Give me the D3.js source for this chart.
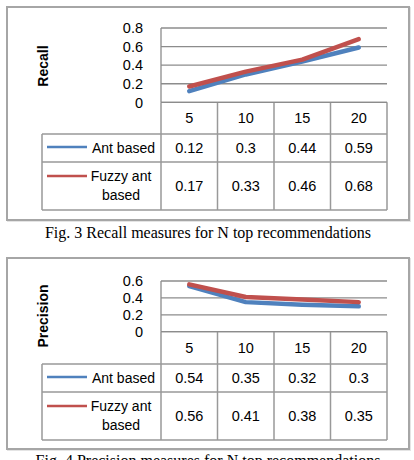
<!DOCTYPE html>
<html>
<head>
<meta charset="utf-8">
<script src="https://cdn.jsdelivr.net/npm/d3@7"></script>
<style>
html,body{margin:0;padding:0;background:#fff;}
svg{display:block;}
</style>
</head>
<body>
<script>
const categories = ["5", "10", "15", "20"];
const seriesNames = ["Ant based", "Fuzzy ant based"];
const recallAnt = [0.12, 0.3, 0.44, 0.59];
const recallFuzzy = [0.17, 0.33, 0.46, 0.68];
const precisionAnt = [0.54, 0.35, 0.32, 0.3];
const precisionFuzzy = [0.56, 0.41, 0.38, 0.35];
const recallTicks = [0, 0.2, 0.4, 0.6, 0.8];
const precisionTicks = [0, 0.2, 0.4, 0.6];
const recallTickLabels = ["0", "0.2", "0.4", "0.6", "0.8"];
const precisionTickLabels = ["0", "0.2", "0.4", "0.6"];
const captions = ["Fig. 3 Recall measures for N top recommendations", "Fig. 4 Precision measures for N top recommendations"];
const yTitles = ["Recall", "Precision"];
const colors = ["#4F81BD", "#C0504D"];

const W = 414, H = 460;
const svg = d3.select("body").append("svg").attr("width", W).attr("height", H);
const font = "'Liberation Sans', Arial, sans-serif";
const gridColor = "#8c8c8c";

function drawChart(cfg) {
  const g = svg.append("g");
  // outer frame with faint shadow
  g.append("rect").attr("x", 8).attr("y", cfg.boxTop + 1).attr("width", 402).attr("height", cfg.boxBottom - cfg.boxTop)
    .attr("fill", "none").attr("stroke", "#e4e4e4").attr("stroke-width", 2);
  g.append("rect").attr("x", 7).attr("y", cfg.boxTop).attr("width", 402).attr("height", cfg.boxBottom - cfg.boxTop)
    .attr("fill", "#fff").attr("stroke", "#a6a6a6").attr("stroke-width", 2);

  const x = d3.scaleBand().domain(categories).range([161, 387]).padding(0);
  const y = d3.scaleLinear().domain([0, cfg.max]).range([cfg.y0, cfg.yTop]);
  const cx = c => x(c) + x.bandwidth() / 2;

  // gridlines
  g.selectAll(".grid").data(cfg.ticks).enter().append("line")
    .attr("x1", 161).attr("x2", 387)
    .attr("y1", d => y(d)).attr("y2", d => y(d))
    .attr("stroke", gridColor).attr("stroke-width", 1.3);
  // left axis line
  g.append("line").attr("x1", 161).attr("x2", 161).attr("y1", y(cfg.max)).attr("y2", cfg.y0)
    .attr("stroke", gridColor).attr("stroke-width", 1.3);

  // tick labels
  g.selectAll(".tl").data(cfg.ticks).enter().append("text")
    .attr("x", 143).attr("y", d => y(d)).attr("dy", "0.36em")
    .attr("text-anchor", "end").attr("font-family", font).attr("font-size", 14.5).attr("fill", "#000")
    .text((d, i) => cfg.tickLabels[i]);

  // y title
  g.append("text").attr("transform", `translate(48,${cfg.titleY}) rotate(-90)`)
    .attr("text-anchor", "middle").attr("font-family", font).attr("font-size", 14).attr("font-weight", "bold")
    .text(cfg.title);

  // lines
  const line = d3.line().x((d, i) => cx(categories[i])).y(d => y(d));
  cfg.series.forEach((s, k) => {
    g.append("path").attr("d", line(s)).attr("fill", "none")
      .attr("stroke", colors[k]).attr("stroke-width", 4.5).attr("stroke-linejoin", "round").attr("stroke-linecap", "round");
  });

  // table
  const r0 = cfg.y0, r1 = cfg.rows[0], r2 = cfg.rows[1], r3 = cfg.rows[2];
  const tc = "#999";
  const tw = 1.5;
  const colEdges = x.domain().map(c => x(c)).concat([387]);
  colEdges.forEach(e => {
    g.append("line").attr("x1", e).attr("x2", e).attr("y1", r0).attr("y2", r3).attr("stroke", tc).attr("stroke-width", tw);
  });
  g.append("line").attr("x1", 161).attr("x2", 387).attr("y1", r0).attr("y2", r0).attr("stroke", gridColor).attr("stroke-width", 1.3);
  [r1, r2, r3].forEach(r => {
    g.append("line").attr("x1", 42).attr("x2", 387).attr("y1", r).attr("y2", r).attr("stroke", tc).attr("stroke-width", tw);
  });
  g.append("line").attr("x1", 42).attr("x2", 42).attr("y1", r1).attr("y2", r3).attr("stroke", tc).attr("stroke-width", tw);

  // header labels
  g.selectAll(".hd").data(categories).enter().append("text")
    .attr("x", d => cx(d)).attr("y", (r0 + r1) / 2).attr("dy", "0.36em")
    .attr("text-anchor", "middle").attr("font-family", font).attr("font-size", 14.5).text(d => d);

  // values
  const rowMid = [(r1 + r2) / 2, (r2 + r3) / 2];
  cfg.series.forEach((s, k) => {
    g.selectAll(".v" + k).data(s).enter().append("text")
      .attr("x", (d, i) => cx(categories[i])).attr("y", rowMid[k]).attr("dy", "0.36em")
      .attr("text-anchor", "middle").attr("font-family", font).attr("font-size", 14.5).text(d => String(d));
  });

  // legend keys
  g.append("line").attr("x1", 47).attr("x2", 87).attr("y1", rowMid[0] - 1).attr("y2", rowMid[0] - 1)
    .attr("stroke", colors[0]).attr("stroke-width", 2.5);
  g.append("text").attr("x", 155).attr("y", rowMid[0]).attr("dy", "0.36em").attr("text-anchor", "end")
    .attr("font-family", font).attr("font-size", 14).text(seriesNames[0]);
  g.append("line").attr("x1", 47).attr("x2", 87).attr("y1", r2 + 14).attr("y2", r2 + 14)
    .attr("stroke", colors[1]).attr("stroke-width", 2.5);
  const parts = seriesNames[1].split(" ");
  g.append("text").attr("x", 121).attr("y", r2 + 14).attr("dy", "0.36em").attr("text-anchor", "middle")
    .attr("font-family", font).attr("font-size", 14).text(parts.slice(0, 2).join(" "));
  g.append("text").attr("x", 121).attr("y", r2 + 33).attr("dy", "0.36em").attr("text-anchor", "middle")
    .attr("font-family", font).attr("font-size", 14).text(parts.slice(2).join(" "));

  // caption
  svg.append("text").attr("x", 208).attr("y", cfg.capY).attr("text-anchor", "middle")
    .attr("font-family", "'Liberation Serif', 'Times New Roman', serif").attr("font-size", 16)
    .text(cfg.caption);
}

drawChart({
  boxTop: 7, boxBottom: 220, max: 0.8, y0: 102.3, yTop: 28, ticks: recallTicks, tickLabels: recallTickLabels,
  title: yTitles[0], titleY: 66, series: [recallAnt, recallFuzzy], rows: [134, 162, 210],
  caption: captions[0], capY: 238
});
drawChart({
  boxTop: 258, boxBottom: 449, max: 0.6, y0: 331.7, yTop: 281, ticks: precisionTicks, tickLabels: precisionTickLabels,
  title: yTitles[1], titleY: 316, series: [precisionAnt, precisionFuzzy], rows: [364, 392, 440],
  caption: captions[1], capY: 466
});
</script>
</body>
</html>
